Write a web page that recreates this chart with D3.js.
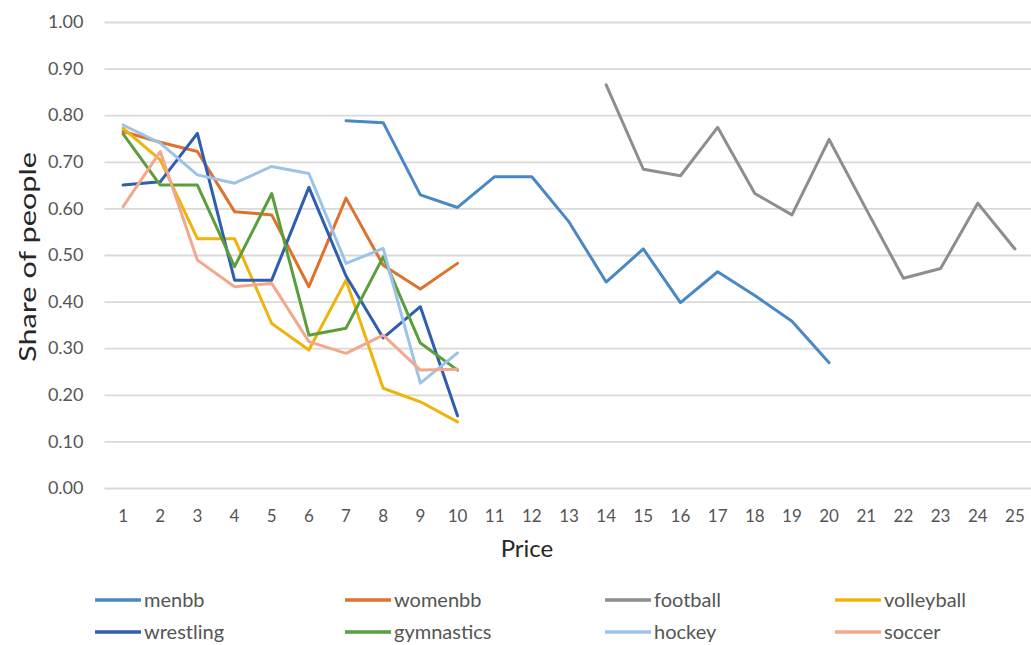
<!DOCTYPE html>
<html>
<head>
<meta charset="utf-8">
<script src="https://cdn.jsdelivr.net/npm/d3@7/dist/d3.min.js"></script>
<style>
  html, body { margin: 0; padding: 0; background: #fff; }
  svg { display: block; }
</style>
</head>
<body>
<svg id="chart" width="1031" height="645"></svg>
<script>
// Price points on the x axis
const prices = d3.range(1, 26);
const yTicks = [0, 0.1, 0.2, 0.3, 0.4, 0.5, 0.6, 0.7, 0.8, 0.9, 1.0];

// Share of people willing to buy at each price, per sport (null = not asked)
const menbb = [null, null, null, null, null, null, 0.788, 0.784, 0.629, 0.602, 0.668, 0.668, 0.571, 0.442, 0.513, 0.398, 0.464, 0.413, 0.358, 0.269];
const womenbb = [0.765, 0.742, 0.722, 0.593, 0.586, 0.432, 0.622, 0.478, 0.427, 0.482];
const football = [null, null, null, null, null, null, null, null, null, null, null, null, null, 0.865, 0.684, 0.670, 0.774, 0.632, 0.586, 0.748, 0.598, 0.450, 0.471, 0.611, 0.513];
const volleyball = [0.772, 0.704, 0.535, 0.535, 0.353, 0.296, 0.446, 0.214, 0.185, 0.142];
const wrestling = [0.650, 0.657, 0.761, 0.446, 0.446, 0.645, 0.455, 0.322, 0.389, 0.155];
const gymnastics = [0.760, 0.650, 0.650, 0.475, 0.632, 0.328, 0.343, 0.496, 0.311, 0.253];
const hockey = [0.779, 0.740, 0.672, 0.654, 0.690, 0.675, 0.482, 0.514, 0.225, 0.290];
const soccer = [0.604, 0.722, 0.489, 0.432, 0.439, 0.314, 0.289, 0.328, 0.253, 0.255];

const seriesNames = ["menbb", "womenbb", "football", "volleyball", "wrestling", "gymnastics", "hockey", "soccer"];
const seriesValues = [menbb, womenbb, football, volleyball, wrestling, gymnastics, hockey, soccer];
const seriesColors = ["#4a88c5", "#e0712c", "#8e8e8e", "#efb40a", "#2f5db0", "#5b9e3c", "#9cc3e8", "#f3a88d"];

const series = seriesNames.map((name, i) => ({
  name,
  color: seriesColors[i],
  points: seriesValues[i].map((v, j) => ({ price: prices[j], value: v })).filter(p => p.value !== null)
}));

const svg = d3.select("#chart");
const margin = { left: 104.5, right: -2.5, top: 22, bottom: 157 };
const W = 1031, H = 645;

const x = d3.scaleBand()
  .domain(prices)
  .range([margin.left, W - margin.right])
  .paddingInner(0).paddingOuter(0);

const y = d3.scaleLinear()
  .domain([0, 1])
  .range([H - margin.bottom, margin.top]);

const fontFamily = "Lato, 'Open Sans', sans-serif";

// Horizontal gridlines with value labels
const yAxis = d3.axisLeft(y)
  .tickValues(yTicks)
  .tickSize(-(x.range()[1] - x.range()[0]))
  .tickPadding(21)
  .tickFormat(d3.format(".2f"));

const gy = svg.append("g")
  .attr("transform", `translate(${margin.left},0)`)
  .call(yAxis);
gy.select(".domain").remove();
gy.selectAll(".tick line").attr("stroke", "#d9d9d9").attr("stroke-width", 1.8);
gy.selectAll(".tick text")
  .attr("fill", "#555")
  .attr("font-family", fontFamily)
  .attr("font-size", 18);

// Price category labels
const xAxis = d3.axisBottom(x).tickSize(0).tickPadding(22);
const gx = svg.append("g")
  .attr("transform", `translate(0,${y(0)})`)
  .call(xAxis);
gx.select(".domain").remove();
gx.selectAll(".tick text")
  .attr("fill", "#555")
  .attr("font-family", fontFamily)
  .attr("font-size", 17);

// Axis titles
svg.append("text")
  .attr("x", 527)
  .attr("y", 557)
  .attr("text-anchor", "middle")
  .attr("fill", "#262626")
  .attr("font-family", fontFamily)
  .attr("font-size", 24)
  .text("Price");

svg.append("text")
  .attr("transform", `translate(36,${y(0.5) + 2}) rotate(-90)`)
  .attr("text-anchor", "middle")
  .attr("fill", "#262626")
  .attr("font-family", fontFamily)
  .attr("font-size", 24)
  .attr("textLength", 210)
  .attr("lengthAdjust", "spacingAndGlyphs")
  .text("Share of people");

// Series lines
const line = d3.line()
  .x(d => x(d.price) + x.bandwidth() / 2)
  .y(d => y(d.value));

svg.append("g")
  .selectAll("path")
  .data(series)
  .join("path")
  .attr("d", d => line(d.points))
  .attr("fill", "none")
  .attr("stroke", d => d.color)
  .attr("stroke-width", 3)
  .attr("stroke-linejoin", "round")
  .attr("stroke-linecap", "round");

// Legend: two rows of four entries
const legendCols = [95, 345, 605, 835];
const legendRows = [600, 632];
const legend = svg.append("g")
  .selectAll("g")
  .data(series)
  .join("g")
  .attr("transform", (d, i) => `translate(${legendCols[i % 4]},${legendRows[Math.floor(i / 4)]})`);

legend.append("line")
  .attr("x1", 0).attr("x2", 46)
  .attr("y1", 0).attr("y2", 0)
  .attr("stroke", d => d.color)
  .attr("stroke-width", 3.5);

legend.append("text")
  .attr("x", 49)
  .attr("y", 0)
  .attr("dy", "0.35em")
  .attr("fill", "#555")
  .attr("font-family", fontFamily)
  .attr("font-size", 20)
  .text(d => d.name);
</script>
</body>
</html>
